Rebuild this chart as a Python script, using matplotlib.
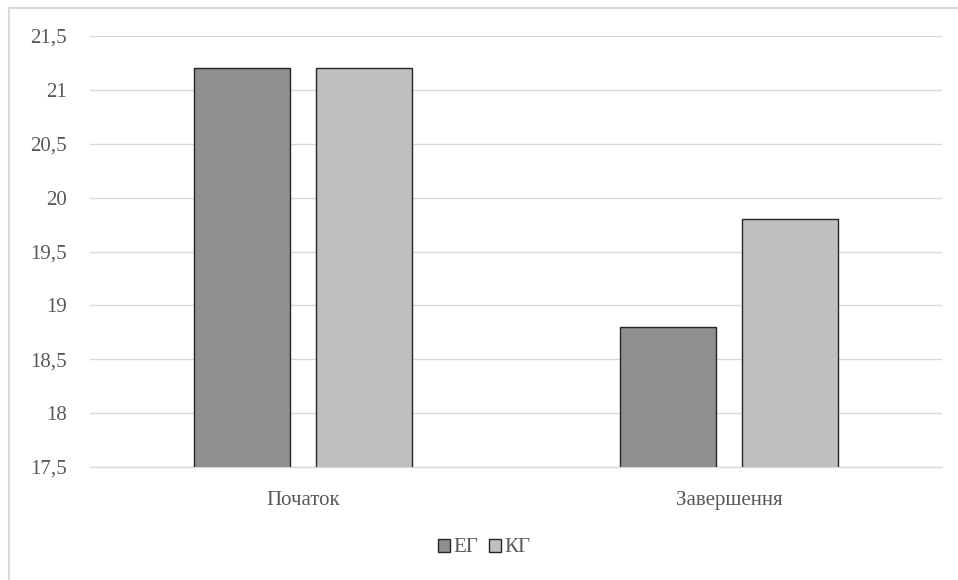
import numpy as np
import matplotlib.pyplot as plt
from matplotlib.patches import Rectangle
from matplotlib.ticker import FuncFormatter

plt.rcParams['font.family'] = ['Liberation Serif', 'DejaVu Serif']

categories = ['Початок', 'Завершення']
eg = [21.2, 18.8]
kg = [21.2, 19.8]
series_names = ['ЕГ', 'КГ']

fig = plt.figure(figsize=(9.58, 5.8), dpi=100)
ax = fig.add_axes([90 / 958, 1 - 467 / 580, 852 / 958, 431 / 580])

# chart frame, cut off on the right and bottom
fig.patches.append(Rectangle((8.5 / 958, -0.1), 1.2, 1 - 7.5 / 580 + 0.1,
                             transform=fig.transFigure, fill=False,
                             edgecolor='#d9d9d9', linewidth=1.5))

x = np.arange(len(categories))
w = 0.227
off = 0.143
ax.bar(x - off, eg, w, color='#8f8f8f', edgecolor='#262626',
       linewidth=1, label=series_names[0], zorder=3)
ax.bar(x + off, kg, w, color='#bfbfbf', edgecolor='#262626',
       linewidth=1, label=series_names[1], zorder=3)

ax.set_xlim(-0.5, 1.5)
ax.set_ylim(17.5, 21.5)
ax.set_yticks(np.arange(17.5, 21.51, 0.5))
ax.yaxis.set_major_formatter(FuncFormatter(lambda v, p: ('%g' % v).replace('.', ',')))
ax.set_xticks(x)
ax.set_xticklabels(categories)
ax.grid(axis='y', color='#d9d9d9', linewidth=1, zorder=0)
for s in ['top', 'right', 'left']:
    ax.spines[s].set_visible(False)
ax.spines['bottom'].set_color('#d9d9d9')
ax.spines['bottom'].set_linewidth(1)
ax.spines['bottom'].set_zorder(1)
ax.tick_params(axis='both', length=0, labelsize=15, labelcolor='#595959')
ax.tick_params(axis='y', pad=16.5)
ax.tick_params(axis='x', pad=17)

fig.legend(loc='center', bbox_to_anchor=(484 / 958, 1 - 548 / 580), ncol=2,
           frameon=False, fontsize=15, labelcolor='#595959',
           handlelength=0.6, handleheight=0.6, handletextpad=0.15,
           columnspacing=0.5)

fig.savefig('out.png', dpi=100)
